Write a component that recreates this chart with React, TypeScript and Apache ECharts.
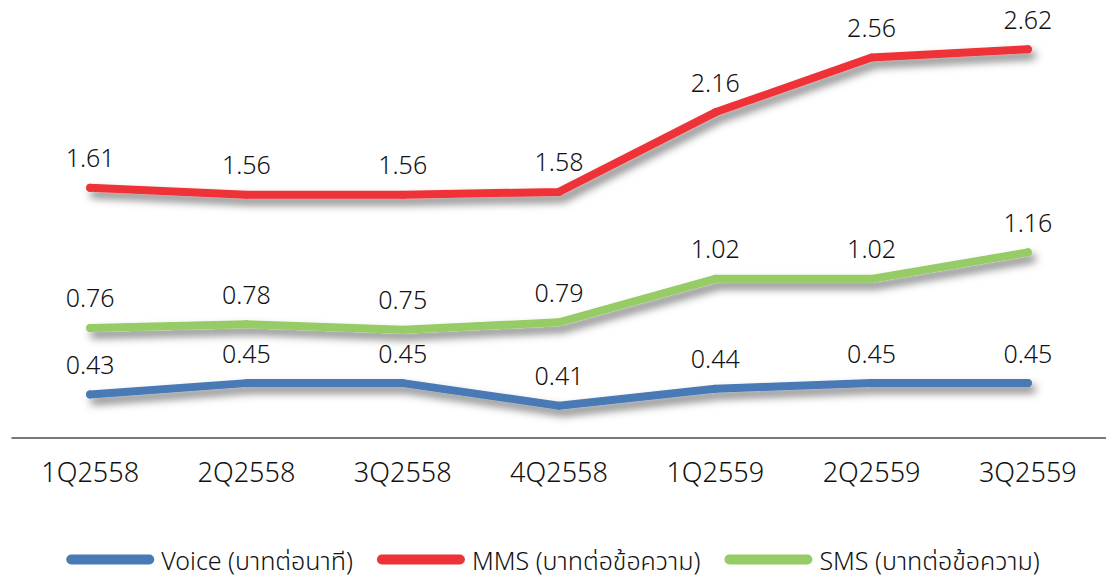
import React, { useEffect, useRef } from "react";
import * as echarts from "echarts";

const categories = ["1Q2558", "2Q2558", "3Q2558", "4Q2558", "1Q2559", "2Q2559", "3Q2559"];
const voiceValues = [0.43, 0.45, 0.45, 0.41, 0.44, 0.45, 0.45];
const mmsValues = [1.61, 1.56, 1.56, 1.58, 2.16, 2.56, 2.62];
const smsValues = [0.76, 0.78, 0.75, 0.79, 1.02, 1.02, 1.16];
const seriesNames = ["Voice (บาทต่อนาที)", "MMS (บาทต่อข้อความ)", "SMS (บาทต่อข้อความ)"];
const colors = ["#4A7AB5", "#EE3338", "#97CB65"];

const FONT = "'Noto Sans', 'Noto Sans Thai', 'Tahoma', sans-serif";

export default function App() {
  const ref = useRef<HTMLDivElement>(null);
  useEffect(() => {
    if (!ref.current) return;
    const chart = echarts.init(ref.current, undefined, { renderer: "svg" });
    const mkSeries = (name: string, data: number[], color: string, yIdx: number) => ({
      name,
      type: "line",
      data,
      yAxisIndex: yIdx,
      symbol: "circle",
      symbolSize: 8,
      showSymbol: true,
      itemStyle: { color },
      lineStyle: {
        color,
        width: 8,
        cap: "round",
        join: "round",
        shadowColor: "rgba(0,0,0,0.5)",
        shadowBlur: 9,
        shadowOffsetX: 4,
        shadowOffsetY: 6,
      },
      label: {
        show: true,
        position: "top",
        distance: 14,
        fontFamily: FONT,
        fontWeight: 300,
        fontSize: 25,
        color: "#111111",
        formatter: (p: any) => p.value.toFixed(2),
      },
      emphasis: { disabled: true },
    });
    const hiddenY = (min: number, max: number) => ({
      type: "value",
      min,
      max,
      show: false,
      splitLine: { show: false },
    });
    chart.setOption({
      animation: false,
      backgroundColor: "#ffffff",
      grid: { left: 12, right: 0, top: 10, bottom: 139 },
      xAxis: {
        type: "category",
        data: categories,
        boundaryGap: true,
        axisLine: { show: true, onZero: false, lineStyle: { color: "#4d4d4d", width: 1.5 } },
        axisTick: { show: false },
        axisLabel: {
          fontFamily: FONT,
          fontWeight: 300,
          fontSize: 27,
          color: "#111111",
          margin: 20,
        },
      },
      yAxis: [
        hiddenY(0.3527, 1.1115),
        hiddenY(-0.2136, 2.906),
        hiddenY(0.1769, 2.444),
      ],
      legend: {
        bottom: 0,
        left: "center",
        itemWidth: 88,
        itemHeight: 10,
        itemGap: 24,
        icon: "path://M5,0 L83,0 A5,5 0 0 1 83,10 L5,10 A5,5 0 0 1 5,0 Z",
        textStyle: { fontFamily: FONT, fontWeight: 300, fontSize: 25, color: "#111111", padding: [0, 0, 0, 2] },
        data: seriesNames,
      },
      series: [
        mkSeries(seriesNames[0], voiceValues, colors[0], 0),
        mkSeries(seriesNames[1], mmsValues, colors[1], 1),
        mkSeries(seriesNames[2], smsValues, colors[2], 2),
      ],
    });
    return () => chart.dispose();
  }, []);
  return (
    <div
      ref={ref}
      style={{ position: "fixed", left: 0, top: 0, width: 1106, height: 577, background: "#fff" }}
    />
  );
}
